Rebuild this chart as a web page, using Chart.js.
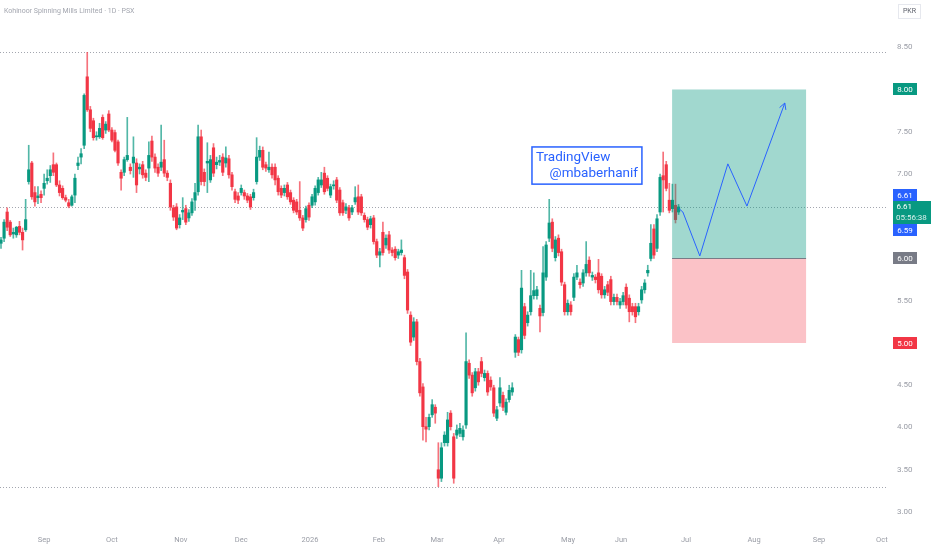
<!DOCTYPE html>
<html>
<head>
<meta charset="utf-8">
<title>Kohinoor Spinning Mills Limited · 1D · PSX</title>
<script src="https://cdn.jsdelivr.net/npm/chart.js@4.4.1/dist/chart.umd.min.js"></script>
<style>
html,body{margin:0;padding:0;background:#ffffff;}
#wrap{position:relative;width:932px;height:550px;}
</style>
</head>
<body>
<div id="wrap"><canvas id="c"></canvas></div>
<script>
// ---- data (daily bars) ----
const openP = [
6.18,6.24,6.55,6.43,6.29,6.28,6.38,6.31,6.34,6.91, 7.13,6.78,6.72,6.76,6.83,6.92,6.98,7.11,7.11,6.87,
6.83,6.72,6.66,6.63,6.75,7.10,7.20,7.34,8.15,7.76, 7.63,7.44,7.44,7.67,7.52,7.71,7.52,7.49,7.38,7.02,
7.02,7.17,
7.08,7.13,7.13,7.06,7.11,7.01,7.07,7.39,7.20,7.08, 7.08,7.17,7.01,6.89,6.60,6.61,6.40,6.55,6.59,6.48,
6.54,6.69,6.79,7.44,7.02,7.13,6.93,7.31,7.11,7.14, 7.20,7.13,7.18,6.99,6.79,6.74,6.78,6.78,6.74,6.73,
6.72,
6.91,7.20,7.28,7.11,7.05,7.08,7.08,6.95,6.83,6.78, 6.87,6.78,6.69,6.67,6.57,6.48,6.46,6.63,6.63,6.67,
6.78,6.87,7.01,6.95,6.75,6.86,6.93,6.81,6.66,6.57, 6.60,6.55,6.67,6.73,6.73,6.51,6.46,6.40,6.48,6.20,
6.04,
6.31,6.16,6.28,6.10,6.11,6.04,6.07,6.01,5.84,5.33, 5.07,5.25,4.78,4.48,4.01,4.01,4.15,4.24,3.50,3.40,
3.82,3.82,4.17,3.89,3.91,3.93,3.89,4.03,4.76,4.62, 4.47,4.66,4.78,4.59,4.64,4.56,4.47,4.11,4.29,4.38,
4.18,4.33,4.42,
4.89,5.04,4.92,5.43,5.24,5.37,5.56,5.56,5.41,5.36, 5.78,6.24,6.43,6.01,6.24,6.08,5.69,5.37,5.45,5.54,
5.78,5.72,5.71,5.83,5.98,5.78,5.78,5.83,5.79,5.57, 5.69,5.75,5.49,5.54,5.45,5.49,5.66,5.53,5.43,5.43,
5.37,5.51,5.63,5.83,6.00,6.35,
6.12,6.55,6.98,7.11,6.69,6.59,6.63,6.55
];
const highP = [
6.25,6.46,6.60,6.45,6.36,6.38,6.44,6.36,6.70,7.34, 7.15,6.85,6.85,6.80,7.00,7.05,7.10,7.25,7.13,6.92,
6.86,6.75,6.70,6.75,7.00,7.20,7.30,7.95,8.44,7.80, 7.66,7.50,7.60,7.70,7.62,7.75,7.55,7.52,7.40,7.05,
7.20,7.67,
7.12,7.44,7.18,7.12,7.15,7.05,7.38,7.45,7.24,7.12, 7.58,7.40,7.04,6.93,6.63,6.65,6.52,6.72,6.63,6.58,
6.71,6.89,7.58,7.52,7.06,7.37,7.22,7.36,7.20,7.22, 7.24,7.32,7.22,7.02,6.82,6.78,6.87,6.81,6.77,6.76,
6.82,
7.43,7.33,7.32,7.14,7.26,7.12,7.12,6.98,6.86,6.87, 6.90,6.81,6.72,6.70,6.91,6.51,6.62,6.66,6.76,6.86,
6.96,7.02,7.08,6.98,6.88,6.92,6.96,6.84,6.69,6.65, 6.63,6.63,6.85,6.87,6.76,6.54,6.49,6.50,6.51,6.23,
6.12,
6.43,6.28,6.32,6.13,6.14,6.11,6.22,6.04,5.87,5.37, 5.30,5.28,4.82,4.52,4.12,4.16,4.33,4.27,3.82,3.82,
3.95,4.18,4.20,3.93,4.03,4.05,4.02,5.12,4.80,4.65, 4.70,4.70,4.83,4.68,4.67,4.60,4.50,4.25,4.59,4.42,
4.34,4.50,4.53,
5.10,5.07,5.86,5.47,5.37,5.86,5.83,5.67,5.45,6.14, 6.20,6.70,6.47,6.26,6.28,6.11,5.72,5.51,5.49,5.82,
5.92,5.76,5.87,6.20,6.02,5.84,5.81,5.99,5.82,5.67, 5.73,5.79,5.58,5.58,5.53,5.60,5.70,5.57,5.47,5.47,
5.47,5.67,5.75,5.92,6.40,6.40,
6.52,7.00,7.26,7.15,6.89,6.88,6.88,6.64
];
const lowP = [
6.12,6.20,6.33,6.26,6.24,6.25,6.28,6.10,6.32,6.88, 6.70,6.62,6.65,6.66,6.75,6.88,6.90,6.98,6.85,6.74,
6.70,6.67,6.60,6.62,6.66,7.05,7.12,7.30,7.74,7.50, 7.40,7.40,7.42,7.41,7.48,7.50,7.38,7.26,7.10,6.81,
6.98,7.15,
7.00,6.96,6.78,7.00,6.95,6.92,6.91,7.15,7.02,6.97, 7.04,6.97,6.92,6.57,6.45,6.34,6.36,6.46,6.40,6.44,
6.51,6.57,6.75,6.87,6.86,6.78,6.90,6.97,7.06,7.10, 6.98,7.08,6.95,6.81,6.66,6.65,6.75,6.70,6.66,6.58,
6.69,
6.88,7.16,7.05,7.03,7.02,6.95,6.87,6.75,6.72,6.74, 6.70,6.64,6.54,6.52,6.45,6.33,6.43,6.45,6.60,6.63,
6.75,6.84,6.76,6.80,6.72,6.82,6.66,6.51,6.51,6.53, 6.45,6.52,6.64,6.52,6.51,6.43,6.34,6.36,6.17,6.01,
5.90,
6.04,6.12,6.06,6.03,5.98,6.00,6.04,5.76,5.35,4.97, 5.03,4.74,4.37,3.85,3.83,3.97,4.12,4.05,3.30,3.36,
3.78,3.78,3.97,3.34,3.87,3.89,3.85,3.99,4.58,4.37, 4.43,4.50,4.60,4.55,4.38,4.44,4.13,4.08,4.25,4.20,
4.15,4.30,4.38,
4.83,4.85,4.88,5.05,5.20,5.33,5.52,5.52,5.13,5.32, 5.74,6.20,6.08,5.97,6.03,5.68,5.33,5.33,5.33,5.50,
5.75,5.65,5.67,5.79,5.79,5.74,5.71,5.59,5.53,5.53, 5.56,5.45,5.45,5.45,5.41,5.45,5.41,5.25,5.33,5.24,
5.33,5.47,5.59,5.79,5.97,6.00,
6.08,6.51,6.55,6.80,6.54,6.55,6.42,6.52
];
const closeP = [
6.22,6.43,6.37,6.28,6.31,6.37,6.31,6.22,6.46,7.05, 6.73,6.67,6.74,6.72,6.89,6.95,7.05,7.02,6.87,6.78,
6.72,6.69,6.62,6.73,6.95,7.13,7.24,7.93,7.76,7.54, 7.43,7.45,7.54,7.43,7.59,7.52,7.40,7.28,7.13,6.95,
7.17,7.22,
7.04,7.20,6.87,7.08,6.99,6.96,7.22,7.20,7.07,7.01, 7.14,7.01,6.96,6.61,6.49,6.36,6.48,6.57,6.43,6.54,
6.67,6.78,7.44,6.91,6.91,7.15,7.17,7.01,7.14,7.16, 7.02,7.19,6.99,6.85,6.70,6.69,6.83,6.74,6.69,6.61,
6.78,
7.20,7.28,7.08,7.07,7.08,6.99,6.93,6.79,6.75,6.83, 6.73,6.67,6.57,6.55,6.48,6.36,6.59,6.49,6.73,6.83,
6.93,6.93,6.79,6.83,6.85,6.87,6.69,6.54,6.54,6.61, 6.48,6.60,6.72,6.55,6.54,6.46,6.37,6.47,6.20,6.04,
6.08,
6.07,6.24,6.10,6.07,6.01,6.08,6.10,5.80,5.39,5.01, 5.25,4.78,4.41,4.01,3.98,4.12,4.27,4.17,3.40,3.76,
3.91,4.09,4.01,3.40,3.97,3.99,3.97,4.78,4.62,4.41, 4.66,4.54,4.64,4.64,4.42,4.48,4.17,4.21,4.47,4.24,
4.30,4.44,4.47,
5.07,4.89,5.65,5.09,5.33,5.56,5.62,5.63,5.32,5.83, 6.16,6.42,6.12,6.22,6.07,5.72,5.37,5.47,5.37,5.78,
5.83,5.69,5.83,5.93,5.83,5.80,5.75,5.63,5.57,5.63, 5.60,5.49,5.54,5.49,5.49,5.56,5.45,5.37,5.37,5.31,
5.43,5.63,5.71,5.86,6.18,6.04,
6.47,6.96,6.93,6.83,6.57,6.69,6.46,6.61
];

// time axis: bar index of the first bar of each month (future months extrapolated)
const monthTickIdx    = [14, 36, 58.4, 78, 100.3, 122.7, 141.6, 161.7, 184.1, 201.3, 222.4, 244.5, 265.6, 286];
const monthTickLabels = ['Sep','Oct','Nov','Dec','2026','Feb','Mar','Apr','May','Jun','Jul','Aug','Sep','Oct'];
const priceTicks = [3.00, 3.50, 4.00, 4.50, 5.00, 5.50, 6.00, 6.50, 7.00, 7.50, 8.00, 8.50];

// projected path drawing (bar index, price)
const pathIdx   = [220.1, 221.4, 226.9, 236.0, 242.2, 254.5];
const pathPrice = [6.59, 6.55, 6.03, 7.12, 6.62, 7.84];

// long position tool
const positionIdx = [217.9, 261.4];
const targetPrice = 8.00;
const entryPrice  = 6.00;
const stopPrice   = 5.00;

// horizontal dotted levels and last price
const levelLines = [8.44, 3.30];
const lastPrice = 6.61;
const bidPrice = 6.61;
const askPrice = 6.59;
const countdown = '05:56:38';

// text note (bar index range, price range)
const noteIdx = [172.4, 208.1];
const notePrice = [7.32, 6.88];
const noteLines = ['TradingView', '@mbaberhanif'];

const titleText = 'Kohinoor Spinning Mills Limited · 1D · PSX';
const currencyText = 'PKR';

// ---- view range ----
const X_MIN = -0.325, X_MAX = 288.0;
const Y_MIN = 2.8225, Y_MAX = 9.059;

const UP = '#089981', DOWN = '#f23645';
const UP_WICK = 'rgba(8,153,129,0.7)', DOWN_WICK = 'rgba(242,54,69,0.7)';
const FONT = 'Roboto, "Liberation Sans", "DejaVu Sans", sans-serif';
const AXIS_TXT = '#9a9da6';

const idx = closeP.map((_, i) => i);
const isUp = idx.map(i => closeP[i] >= openP[i]);
const candleColor = isUp.map(u => u ? UP : DOWN);
const wickColor = isUp.map(u => u ? UP_WICK : DOWN_WICK);
const wickData = idx.map(i => ({x: i, y: [lowP[i], highP[i]]}));
const bodyData = idx.map(i => ({x: i, y: [openP[i], closeP[i]]}));
const pathData = pathIdx.map((x, k) => ({x: x, y: pathPrice[k]}));

const overlay = {
  id: 'overlay',
  beforeDatasetsDraw(chart) {
    const {ctx, chartArea: a, scales: {y}} = chart;
    ctx.save();
    ctx.strokeStyle = '#a3a6af';
    ctx.lineWidth = 1;
    ctx.setLineDash([1, 2]);
    levelLines.concat([lastPrice]).forEach(p => {
      const yy = Math.round(y.getPixelForValue(p)) + 0.5;
      ctx.beginPath(); ctx.moveTo(a.left, yy); ctx.lineTo(a.right, yy); ctx.stroke();
    });
    ctx.restore();
  },
  beforeDatasetDraw(chart, args) {
    if (args.index !== 2) return;
    const {ctx, scales: {x, y}} = chart;
    const l = x.getPixelForValue(positionIdx[0]);
    const r = x.getPixelForValue(positionIdx[1]);
    const yT = y.getPixelForValue(targetPrice);
    const yE = y.getPixelForValue(entryPrice);
    const yS = y.getPixelForValue(stopPrice);
    ctx.save();
    ctx.fillStyle = 'rgba(8,153,129,0.38)';
    ctx.fillRect(l, yT, r - l, yE - yT);
    ctx.fillStyle = 'rgba(242,54,69,0.30)';
    ctx.fillRect(l, yE, r - l, yS - yE);
    ctx.strokeStyle = '#787b86';
    ctx.lineWidth = 1;
    ctx.beginPath(); ctx.moveTo(l, Math.round(yE) + 0.5); ctx.lineTo(r, Math.round(yE) + 0.5); ctx.stroke();
    ctx.restore();
  },
  afterDatasetsDraw(chart) {
    const {ctx, scales: {x, y}} = chart;
    // arrow head on projected path
    const pts = chart.getDatasetMeta(2).data;
    const p1 = pts[pts.length - 2], p2 = pts[pts.length - 1];
    const ang = Math.atan2(p2.y - p1.y, p2.x - p1.x);
    ctx.save();
    ctx.strokeStyle = '#2962ff';
    ctx.lineWidth = 1;
    ctx.beginPath();
    ctx.moveTo(p2.x - 7 * Math.cos(ang - 0.5), p2.y - 7 * Math.sin(ang - 0.5));
    ctx.lineTo(p2.x, p2.y);
    ctx.lineTo(p2.x - 7 * Math.cos(ang + 0.5), p2.y - 7 * Math.sin(ang + 0.5));
    ctx.stroke();
    // note box
    const nl = x.getPixelForValue(noteIdx[0]), nr = x.getPixelForValue(noteIdx[1]);
    const nt = y.getPixelForValue(notePrice[0]), nb = y.getPixelForValue(notePrice[1]);
    ctx.fillStyle = '#ffffff';
    ctx.fillRect(nl, nt, nr - nl, nb - nt);
    ctx.strokeStyle = '#2962ff';
    ctx.lineWidth = 1.5;
    ctx.strokeRect(nl, nt, nr - nl, nb - nt);
    ctx.fillStyle = '#2962ff';
    ctx.font = '13.5px ' + FONT;
    ctx.textBaseline = 'middle';
    const h = nb - nt;
    ctx.textAlign = 'left';
    ctx.fillText(noteLines[0], nl + 4, nt + h * 0.30);
    ctx.textAlign = 'right';
    ctx.fillText(noteLines[1], nr - 4, nt + h * 0.72);
    ctx.restore();
  },
  afterDraw(chart) {
    const {ctx, chartArea: a, scales: {y}} = chart;
    ctx.save();
    const bl = a.right + 5, bw = 24, bh = 12;
    ctx.font = '8px ' + FONT;
    ctx.textBaseline = 'middle';
    ctx.textAlign = 'center';
    const single = [[targetPrice, '#089981'], [entryPrice, '#787b86'], [stopPrice, '#f23645']];
    single.forEach(([p, col]) => {
      const yc = y.getPixelForValue(p);
      ctx.fillStyle = col;
      ctx.fillRect(bl, Math.round(yc - bh / 2), bw, bh);
      ctx.fillStyle = '#ffffff';
      ctx.fillText(p.toFixed(2), bl + bw / 2, Math.round(yc) + 0.5);
    });
    // last price group
    const yc = Math.round(y.getPixelForValue(lastPrice));
    const gTop = yc - 6, gH = 23;
    ctx.fillStyle = '#089981';
    ctx.fillRect(bl, gTop, 38, gH);
    ctx.fillStyle = '#2962ff';
    ctx.fillRect(bl, gTop - bh, bw, bh);
    ctx.fillRect(bl, gTop + gH, bw, bh);
    ctx.fillStyle = '#ffffff';
    ctx.fillText(bidPrice.toFixed(2), bl + bw / 2, gTop - bh / 2 + 0.5);
    ctx.fillText(askPrice.toFixed(2), bl + bw / 2, gTop + gH + bh / 2 + 0.5);
    ctx.textAlign = 'left';
    ctx.fillText(lastPrice.toFixed(2), bl + 3.5, gTop + 6);
    ctx.fillStyle = 'rgba(255,255,255,0.85)';
    ctx.fillText(countdown, bl + 3, gTop + 16.5);
    // title
    ctx.fillStyle = '#a3a6af';
    ctx.font = '7px ' + FONT;
    ctx.textAlign = 'left';
    ctx.fillText(titleText, 4, 11);
    // currency box
    ctx.fillStyle = '#ffffff';
    ctx.strokeStyle = '#e6e8ee';
    ctx.lineWidth = 1;
    ctx.fillRect(898.5, 4.5, 22, 14);
    ctx.strokeRect(898.5, 4.5, 22, 14);
    ctx.fillStyle = '#5d606b';
    ctx.textAlign = 'center';
    ctx.fillText(currencyText, 909.5, 11.5);
    ctx.restore();
  }
};

new Chart(document.getElementById('c'), {
  type: 'bar',
  data: {
    datasets: [
      {type: 'bar', data: wickData, backgroundColor: wickColor, barThickness: 1, grouped: false, minBarLength: 1, order: 3},
      {type: 'bar', data: bodyData, backgroundColor: candleColor, barThickness: 2.5, grouped: false, minBarLength: 1, order: 2},
      {type: 'line', data: pathData, borderColor: '#2962ff', borderWidth: 1, pointRadius: 0, tension: 0, fill: false, order: 1}
    ]
  },
  options: {
    responsive: true,
    maintainAspectRatio: false,
    animation: false,
    layout: {padding: 0},
    plugins: {legend: {display: false}, tooltip: {enabled: false}},
    scales: {
      x: {
        type: 'linear', min: X_MIN, max: X_MAX, offset: false,
        grid: {display: false, drawTicks: false}, border: {display: false},
        afterBuildTicks: s => { s.ticks = monthTickIdx.map(v => ({value: v})); },
        afterFit: s => { s.height = 23; s.paddingLeft = 0; s.paddingRight = 0; s.paddingTop = 0; s.paddingBottom = 0; },
        ticks: {autoSkip: false, maxRotation: 0, minRotation: 0, padding: 9, color: AXIS_TXT,
          font: {family: FONT, size: 7.5}, callback: (v, i) => monthTickLabels[i]}
      },
      y: {
        type: 'linear', position: 'right', min: Y_MIN, max: Y_MAX,
        grid: {display: false, drawTicks: false}, border: {display: false},
        afterBuildTicks: s => { s.ticks = priceTicks.map(v => ({value: v})); },
        afterFit: s => { s.width = 44; s.paddingLeft = 0; s.paddingRight = 0; s.paddingTop = 0; s.paddingBottom = 0; },
        ticks: {padding: 9, color: AXIS_TXT, font: {family: FONT, size: 8}, callback: v => Number(v).toFixed(2)}
      }
    }
  },
  plugins: [overlay]
});
</script>
</body>
</html>
